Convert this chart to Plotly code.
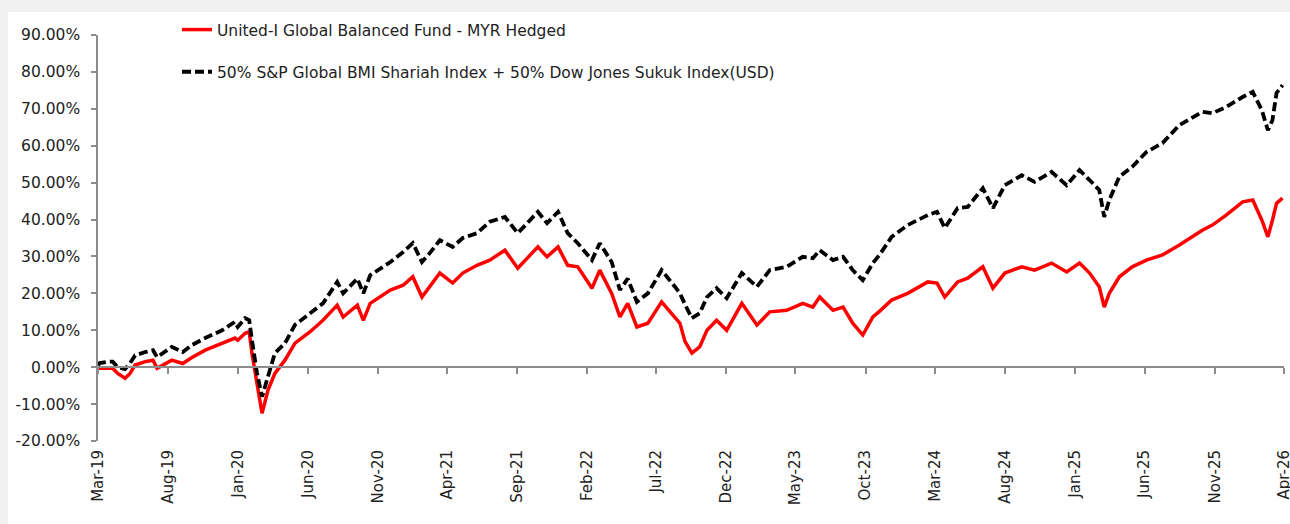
import plotly.graph_objects as go

dates = [
    "2019-03-01", "2019-03-05", "2019-03-23", "2019-04-02", "2019-04-13", "2019-04-29", "2019-05-10",
    "2019-05-21", "2019-06-12", "2019-06-29", "2019-07-08", "2019-07-25", "2019-08-09", "2019-09-02",
    "2019-09-22", "2019-10-21", "2019-11-27", "2019-12-25", "2019-12-31", "2020-01-16", "2020-01-25",
    "2020-01-31", "2020-02-11", "2020-02-22", "2020-03-06", "2020-03-21", "2020-04-12", "2020-05-04",
    "2020-06-06", "2020-07-04", "2020-08-04", "2020-08-17", "2020-09-17", "2020-09-30", "2020-10-15",
    "2020-11-28", "2020-12-26", "2021-01-16", "2021-02-05", "2021-02-22", "2021-03-16", "2021-04-13",
    "2021-05-05", "2021-06-05", "2021-07-03", "2021-08-05", "2021-09-02", "2021-10-16", "2021-11-05",
    "2021-11-29", "2021-12-20", "2022-01-11", "2022-02-11", "2022-02-28", "2022-03-26", "2022-04-13",
    "2022-04-30", "2022-05-20", "2022-06-13", "2022-07-13", "2022-08-11", "2022-08-22", "2022-09-02",
    "2022-09-17", "2022-10-04", "2022-10-20", "2022-11-10", "2022-12-02", "2023-01-04", "2023-02-06",
    "2023-03-06", "2023-04-12", "2023-05-17", "2023-06-08", "2023-06-23", "2023-07-22", "2023-08-13",
    "2023-09-03", "2023-09-25", "2023-10-17", "2023-11-01", "2023-11-27", "2024-01-01", "2024-02-14",
    "2024-03-05", "2024-03-22", "2024-04-19", "2024-05-11", "2024-06-13", "2024-07-05", "2024-07-31",
    "2024-09-06", "2024-10-04", "2024-11-10", "2024-12-13", "2025-01-10", "2025-02-01", "2025-02-22",
    "2025-03-05", "2025-03-16", "2025-04-07", "2025-05-05", "2025-06-05", "2025-07-10", "2025-08-16",
    "2025-09-13", "2025-10-05", "2025-10-27", "2025-11-26", "2026-01-01", "2026-01-23", "2026-02-12",
    "2026-02-25", "2026-03-07", "2026-03-16", "2026-03-29",
]

fund = [
    0.0, -0.3, -0.3, -0.3, -1.7, -3.0, -1.7, 0.6, 1.5, 1.9, -0.3, 1.0, 1.9, 1.0,
    2.6, 4.6, 6.5, 7.9, 7.3, 9.2, 9.6, 3.8, -4.4, -12.5, -6.2, -1.7, 1.9, 6.5,
    9.6, 12.7, 16.8, 13.6, 16.8, 12.7, 17.3, 20.9, 22.2, 24.5, 19.0, 21.8, 25.5, 22.8,
    25.5, 27.6, 29.0, 31.7, 26.8, 32.6, 29.9, 32.6, 27.6, 27.2, 21.4, 26.3, 20.0, 13.6,
    17.3, 10.9, 11.9, 17.7, 13.6, 11.9, 7.0, 3.8, 5.5, 10.0, 12.7, 10.0, 17.3, 11.4,
    15.0, 15.4, 17.3, 16.3, 19.0, 15.4, 16.3, 11.9, 8.7, 13.6, 15.2, 18.2, 20.0, 23.1,
    22.8, 19.0, 23.1, 24.1, 27.2, 21.4, 25.5, 27.2, 26.3, 28.2, 25.8, 28.2, 25.5, 21.8,
    16.3, 20.0, 24.5, 27.2, 29.0, 30.4, 33.1, 35.3, 37.1, 38.5, 41.2, 44.8, 45.3, 39.8,
    35.3, 39.8, 44.4, 45.8,
]

benchmark = [
    0.5, 1.1, 1.5, 1.5, 0.0, -0.5, 1.1, 3.2, 4.1, 4.6, 2.7, 4.1, 5.5, 4.1,
    6.0, 7.9, 10.0, 12.3, 10.9, 13.3, 12.7, 7.3, -1.6, -8.0, -2.6, 3.8, 6.5, 11.5,
    14.6, 17.3, 23.1, 20.0, 24.0, 20.0, 24.9, 28.5, 31.2, 33.6, 28.5, 30.9, 34.4, 32.6,
    35.0, 36.3, 39.4, 40.7, 36.3, 42.1, 39.0, 42.1, 36.3, 33.6, 29.0, 33.6, 28.5, 20.9,
    24.0, 17.7, 20.0, 26.3, 21.8, 20.0, 17.0, 13.3, 14.6, 19.0, 21.4, 18.7, 25.5, 21.8,
    26.3, 27.2, 29.9, 29.5, 31.7, 29.0, 29.9, 26.3, 23.6, 28.2, 30.5, 35.3, 38.5, 41.2,
    42.1, 37.7, 43.1, 43.4, 48.5, 43.1, 49.3, 52.0, 50.2, 52.9, 49.3, 53.4, 50.7, 48.0,
    40.7, 45.3, 51.6, 54.3, 58.3, 60.7, 65.6, 67.5, 69.2, 68.8, 70.5, 73.2, 74.6, 69.6,
    64.2, 66.9, 74.3, 76.4,
]

series_names = [
    "United-I Global Balanced Fund - MYR Hedged",
    "50% S&P Global BMI Shariah Index + 50% Dow Jones Sukuk Index(USD)",
]

x_tick_dates = [
    "2019-03-01", "2019-08-01", "2020-01-01", "2020-06-01", "2020-11-01", "2021-04-01",
    "2021-09-01", "2022-02-01", "2022-07-01", "2022-12-01", "2023-05-01", "2023-10-01",
    "2024-03-01", "2024-08-01", "2025-01-01", "2025-06-01", "2025-11-01", "2026-04-01",
]
x_tick_labels = [
    "Mar-19", "Aug-19", "Jan-20", "Jun-20", "Nov-20", "Apr-21", "Sep-21", "Feb-22", "Jul-22",
    "Dec-22", "May-23", "Oct-23", "Mar-24", "Aug-24", "Jan-25", "Jun-25", "Nov-25", "Apr-26",
]
y_ticks = [-20, -10, 0, 10, 20, 30, 40, 50, 60, 70, 80, 90]
y_tick_labels = [f"{v:.2f}%" for v in y_ticks]

FONT = "DejaVu Sans"
TEXT = "#222222"
AXIS_COLOR = "#8c8c8c"
W, H = 1290, 524
ML, MR, MT, MB = 98, 6, 35, 83
PW, PH = W - ML - MR, H - MT - MB

fig = go.Figure()
fig.add_trace(go.Scatter(
    x=dates, y=fund, mode="lines", name=series_names[0], legendgroup="a",
    line=dict(color="#ff0000", width=3.5),
))
fig.add_trace(go.Scatter(
    x=dates, y=benchmark, mode="lines", name=series_names[1], legendgroup="b",
    line=dict(color="#000000", width=3.8, dash="9px,4px"),
))
# carrier for the zero-level axis line with tick marks
fig.add_trace(go.Scatter(x=[dates[0]], y=[None], xaxis="x2", showlegend=False,
                         hoverinfo="skip", mode="lines"))

y_min, y_max = y_ticks[0], y_ticks[-1]
zero_pos = (0 - y_min) / (y_max - y_min)
x_range = [x_tick_dates[0], x_tick_dates[-1] + " 06:00"]

fig.update_layout(
    width=W, height=H,
    margin=dict(l=ML, r=MR, t=MT, b=MB, autoexpand=False),
    paper_bgcolor="#f0f0f0",
    plot_bgcolor="rgba(0,0,0,0)",
    font=dict(family=FONT, size=15, color=TEXT),
    showlegend=True,
    legend=dict(
        x=(177 - ML) / PW, y=1 + (MT - 13) / PH, xanchor="left", yanchor="top",
        bgcolor="rgba(0,0,0,0)", tracegroupgap=19,
        font=dict(family=FONT, size=15.5, color=TEXT),
    ),
    xaxis=dict(
        type="date", range=x_range, automargin=False,
        tickvals=x_tick_dates, ticktext=x_tick_labels, tickangle=-90,
        showline=False, ticks="", showgrid=False, zeroline=False,
        ticklabelstandoff=5, ticklabeloverflow="allow",
        tickfont=dict(family=FONT, size=15, color=TEXT),
    ),
    xaxis2=dict(
        type="date", overlaying="x", matches="x", anchor="free", position=zero_pos,
        automargin=False,
        tickvals=x_tick_dates, showticklabels=False, ticks="outside", ticklen=6,
        tickcolor=AXIS_COLOR, tickwidth=1.5, showline=True, linecolor=AXIS_COLOR,
        linewidth=1.5, showgrid=False, zeroline=False,
    ),
    yaxis=dict(
        range=[y_min, y_max], tickvals=y_ticks, ticktext=y_tick_labels, automargin=False,
        showline=True, linecolor=AXIS_COLOR, linewidth=1.5, ticks="outside",
        ticklen=5, tickcolor=AXIS_COLOR, tickwidth=1.5, showgrid=False, zeroline=False,
        ticklabelstandoff=8,
        tickfont=dict(family=FONT, size=15.5, color=TEXT),
    ),
    shapes=[dict(
        type="rect", xref="paper", yref="paper", layer="below",
        x0=(8 - ML) / PW, x1=(W + 5 - ML) / PW,
        y0=(MT + PH - (H + 5)) / PH, y1=(MT + PH - 12) / PH,
        fillcolor="#ffffff", line=dict(width=0),
    )],
)

fig.write_html(
    "out.html",
    config={"displayModeBar": False},
    post_script="document.body.style.margin='0';document.body.style.background='#f0f0f0';"
                "document.documentElement.style.overflow='hidden';",
)
